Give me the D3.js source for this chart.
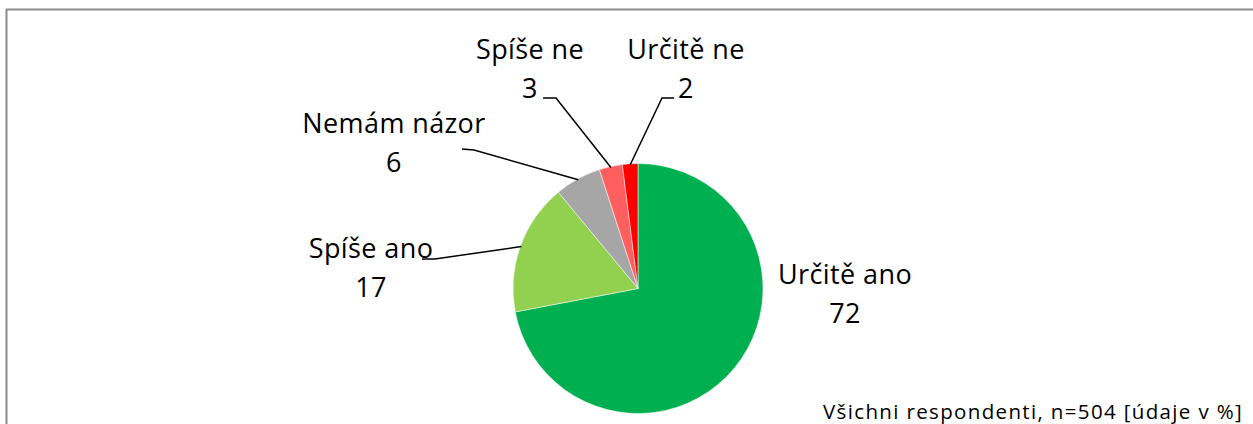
<!DOCTYPE html>
<html>
<head>
<meta charset="utf-8">
<script src="https://cdn.jsdelivr.net/npm/d3@7"></script>
<style>
  body { margin: 0; background: #fff; }
  svg { display: block; font-family: "Open Sans", Lato, sans-serif; }
</style>
</head>
<body>
<div id="chart"></div>
<script>
const WIDTH = 1253
const HEIGHT = 424

// Answers, clockwise from 12 o'clock
const categories = ['Určitě ano', 'Spíše ano', 'Nemám názor', 'Spíše ne', 'Určitě ne']
const values = [72, 17, 6, 3, 2]
const colors = ['#00B050', '#92D050', '#A6A6A6', '#FF5F5F', '#FF0000']
const note = 'Všichni respondenti, n=504 [údaje v %]'

// Label placement (label centre, first baseline) and leader line elbow
const labelPos = [
    { x: 845, y: 283.5, elbow: null },
    { x: 371, y: 257.5, elbow: [[422, 259], [435, 259]] },
    { x: 394, y: 133, elbow: [[462, 149], [474, 150]] },
    { x: 530, y: 59, elbow: [[543, 98], [556, 98]] },
    { x: 686, y: 59, elbow: [[674, 98], [662, 98]] }
]

const cx = 638
const cy = 288.5
const radius = 125

const svg = d3.select('#chart')
    .append('svg')
    .attr('width', WIDTH)
    .attr('height', HEIGHT)

// Chart area border (right and bottom edges fall outside the picture)
svg.append('path')
    .attr('d', `M6.5,${HEIGHT + 2} L6.5,9.5 L${WIDTH + 2},9.5`)
    .style('fill', 'none')
    .style('stroke', '#8c8c8c')
    .style('stroke-width', 2)

const data = categories.map((c, i) => ({ name: c, value: values[i], color: colors[i], pos: labelPos[i] }))

const pie = d3.pie()
    .sort(null)
    .value(d => d.value)

const arc = d3.arc()
    .innerRadius(0)
    .outerRadius(radius)

const arcs = pie(data)

const g = svg.append('g')
    .attr('transform', `translate(${cx},${cy})`)

g.selectAll('.slice')
    .data(arcs)
    .enter()
    .append('path')
    .attr('class', 'slice')
    .attr('d', arc)
    .style('fill', d => d.data.color)
    .style('stroke', '#fff')
    .style('stroke-width', 0.5)

// Leader lines end on the slice edge, at the middle angle
const edge = d3.arc().innerRadius(radius - 1).outerRadius(radius - 1)

svg.selectAll('.leader')
    .data(arcs.filter(d => d.data.pos.elbow))
    .enter()
    .append('polyline')
    .attr('class', 'leader')
    .attr('points', d => {
        const [ex, ey] = edge.centroid(d)
        return [...d.data.pos.elbow, [cx + ex, cy + ey]].map(p => p.join(',')).join(' ')
    })
    .style('fill', 'none')
    .style('stroke', '#000')
    .style('stroke-width', 1.5)

const label = svg.selectAll('.label')
    .data(data)
    .enter()
    .append('text')
    .attr('class', 'label')
    .attr('text-anchor', 'middle')
    .style('font-size', '27px')
    .style('letter-spacing', '0.4px')
    .style('fill', '#000')

label.append('tspan')
    .attr('x', d => d.pos.x)
    .attr('y', d => d.pos.y)
    .text(d => d.name)

label.append('tspan')
    .attr('x', d => d.pos.x)
    .attr('y', d => d.pos.y + 39)
    .text(d => d.value)

svg.append('text')
    .attr('x', 1243)
    .attr('y', 419)
    .attr('text-anchor', 'end')
    .style('font-size', '20.5px')
    .style('letter-spacing', '1.35px')
    .style('fill', '#000')
    .text(note)
</script>
</body>
</html>
